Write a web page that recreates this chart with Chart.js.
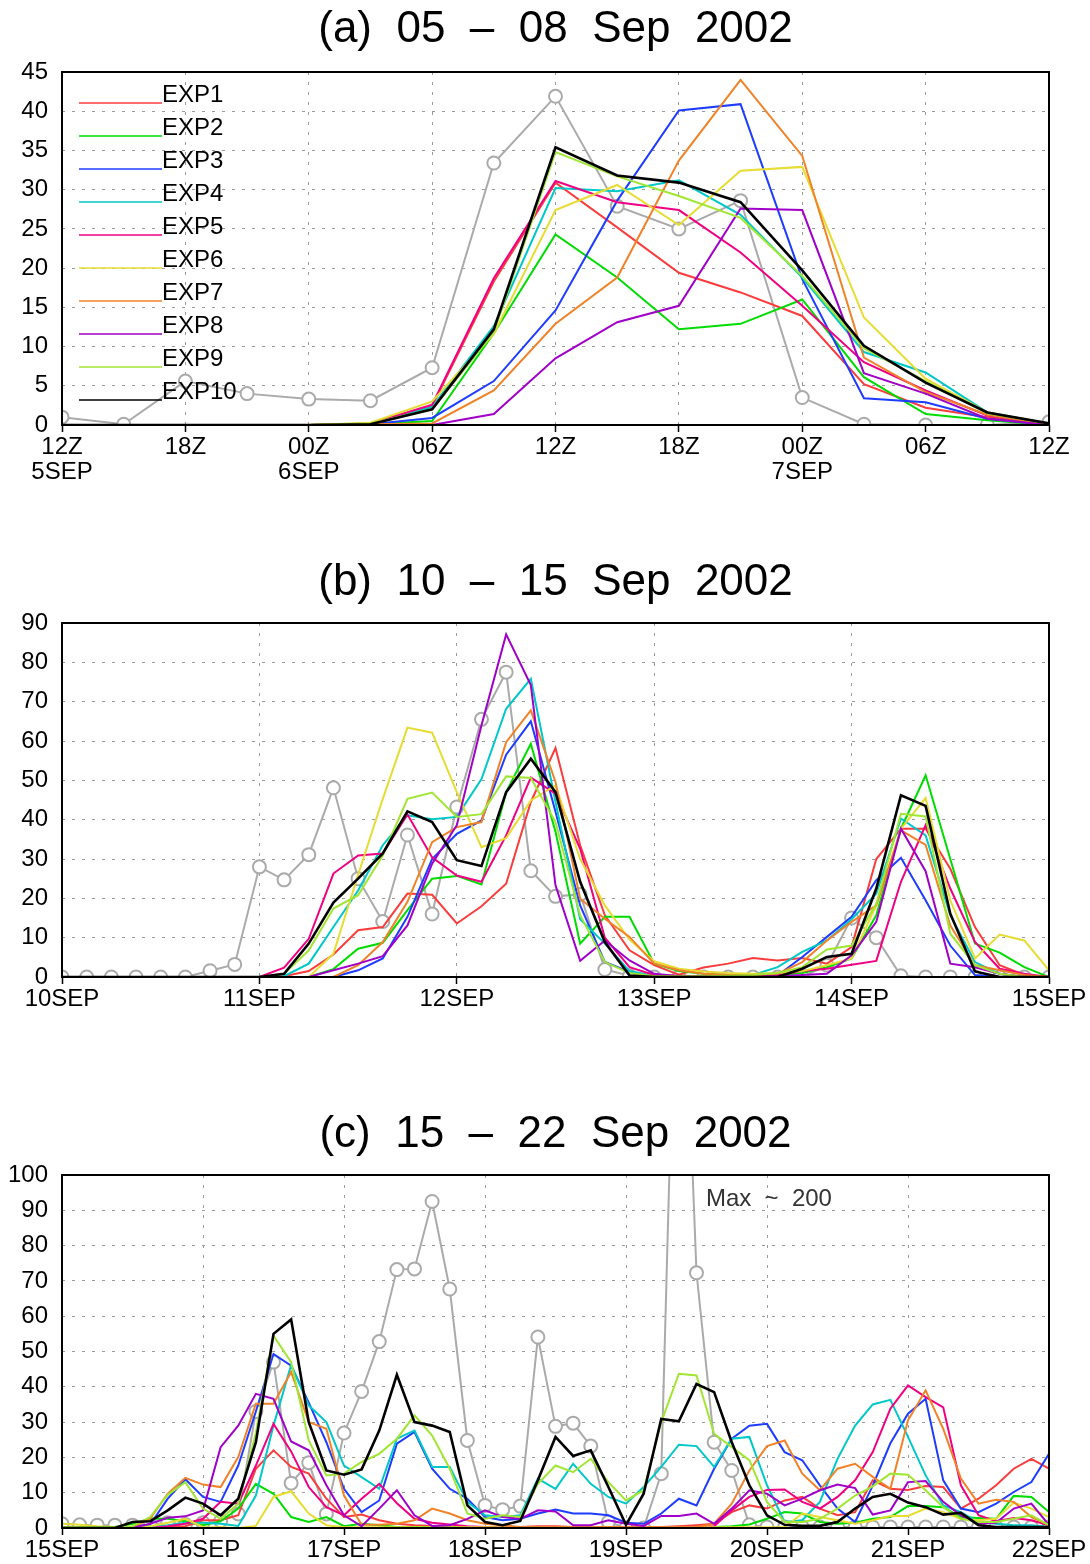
<!DOCTYPE html>
<html>
<head>
<meta charset="utf-8">
<title>Rain rate, EXP1-EXP10 vs observed, Sep 2002</title>
<script src="https://cdn.jsdelivr.net/npm/chart.js@4"></script>
<style>
  body { margin: 0; background: #fff; }
  canvas { position: absolute; left: 0; }
</style>
</head>
<body>
<canvas id="chart-a" width="1090" height="552" style="top:0px"></canvas>
<canvas id="chart-b" width="1090" height="552" style="top:552px"></canvas>
<canvas id="chart-c" width="1090" height="460" style="top:1104px"></canvas>
<script>
// ---- panel (a): 3-hourly, 12Z 5SEP .. 12Z 7SEP
const ticksA = [['12Z', '5SEP'], '18Z', ['00Z', '6SEP'], '06Z', '12Z', '18Z', ['00Z', '7SEP'], '06Z', '12Z'];
const obsA   = [1.0, 0.1, 5.6, 4.0, 3.3, 3.1, 7.3, 33.4, 41.9, 27.9, 25.0, 28.6, 3.5, 0.1, 0.0, 0.0, 0.4];
const exp1A  = [0, 0, 0, 0, 0, 0.2, 2.4, 18.3, 30.9, 25.2, 19.4, 16.9, 13.9, 5.2, 2.2, 1.0, 0.1];
const exp2A  = [0, 0, 0, 0, 0, 0.1, 0.5, 11.7, 24.3, 18.8, 12.2, 12.9, 16.0, 6.1, 1.4, 0.6, 0];
const exp3A  = [0, 0, 0, 0, 0, 0.1, 0.9, 5.6, 14.6, 28.6, 40.1, 40.9, 18.6, 3.4, 2.9, 0.8, 0];
const exp4A  = [0, 0, 0, 0, 0, 0.2, 2.3, 12.6, 30.2, 29.8, 31.2, 26.8, 18.8, 9.3, 6.7, 1.6, 0.2];
const exp5A  = [0, 0, 0, 0, 0, 0.2, 2.6, 18.7, 31.1, 28.4, 27.4, 22.0, 15.2, 8.0, 4.4, 1.2, 0.1];
const exp6A  = [0, 0, 0, 0, 0, 0.3, 3.0, 11.6, 27.4, 30.6, 25.5, 32.4, 32.9, 13.7, 5.9, 1.6, 0.2];
const exp7A  = [0, 0, 0, 0, 0, 0.1, 0.2, 4.4, 12.9, 18.8, 33.7, 44.0, 34.3, 8.6, 4.2, 1.3, 0.1];
const exp8A  = [0, 0, 0, 0, 0, 0, 0, 1.4, 8.5, 13.1, 15.2, 27.6, 27.4, 6.6, 4.0, 0.8, 0];
const exp9A  = [0, 0, 0, 0, 0, 0.2, 2.0, 11.8, 34.8, 31.7, 29.2, 26.4, 19.0, 9.8, 5.6, 1.5, 0.2];
const exp10A = [0, 0, 0, 0, 0, 0.1, 2.0, 12.2, 35.4, 31.8, 30.9, 28.4, 19.7, 10.1, 5.4, 1.6, 0.2];

// ---- panel (b): 3-hourly, 10SEP .. 15SEP
const ticksB = ['10SEP', '11SEP', '12SEP', '13SEP', '14SEP', '15SEP'];
const obsB = [0, 0, 0, 0, 0, 0, 1.6, 3.2,
  28.0, 24.7, 31.1, 48.1, 25.0, 14.1, 36.1, 16.0,
  43.2, 65.5, 77.5, 27.0, 20.5, 21.0, 1.9, 0.3,
  0, 0, 0, 0, 0, 0, 0, 3.0,
  15.0, 10.0, 0.3, 0, 0, 0, 0, 0, 0];
const exp1B = [0, 0, 0, 0, 0, 0, 0, 0,
  0, 0.2, 1.5, 5.7, 11.9, 12.7, 21.2, 20.9,
  13.6, 18.0, 23.7, 44.5, 58.2, 33.5, 15.7, 6.8,
  3.0, 0.6, 2.4, 3.4, 4.8, 4.2, 4.8, 3.4,
  7.6, 30.0, 37.7, 37.7, 27.5, 12.7, 3.0, 0.5, 0];
const exp2B = [0, 0, 0, 0, 0, 0, 0, 0,
  0, 0, 0, 2.0, 7.2, 8.7, 17.0, 25.0,
  25.7, 23.5, 47.0, 59.3, 36.9, 8.5, 15.3, 15.3,
  3.4, 1.5, 0.8, 0.5, 0.5, 0.5, 1.0, 2.5,
  4.7, 15.7, 37.7, 51.3, 30.0, 8.5, 6.2, 2.5, 0];
const exp3B = [0, 0, 0, 0, 0, 0, 0, 0,
  0, 0, 0, 0, 1.7, 4.7, 15.3, 30.0,
  36.4, 39.8, 56.5, 65.0, 42.0, 18.2, 3.8, 1.3,
  0, 0, 0, 0, 0, 0.4, 5.1, 10.2,
  15.3, 24.6, 30.3, 19.5, 8.0, 0.5, 0, 0, 0];
const exp4B = [0, 0, 0, 0, 0, 0, 0, 0,
  0, 0.2, 3.4, 12.7, 22.0, 33.5, 41.1, 40.1,
  40.7, 50.3, 68.2, 75.8, 44.5, 14.7, 8.5, 1.5,
  0.3, 0.2, 0.2, 0.3, 0.5, 2.5, 6.4, 9.3,
  14.7, 21.2, 40.3, 36.0, 15.7, 3.8, 0.8, 0, 0];
const exp5B = [0, 0, 0, 0, 0, 0, 0, 0,
  0, 2.4, 9.7, 26.3, 30.9, 31.4, 41.3, 30.4,
  25.8, 24.2, 36.0, 50.7, 46.6, 32.6, 10.0, 2.5,
  0.5, 0.3, 0.2, 0.2, 0.3, 0.5, 1.5, 2.1,
  3.1, 4.1, 24.2, 38.6, 22.5, 8.9, 2.1, 0.8, 0];
const exp6B = [0, 0, 0, 0, 0, 0, 0, 0,
  0, 0, 0, 5.9, 26.0, 45.3, 63.4, 62.1,
  47.0, 33.0, 35.3, 44.9, 48.7, 30.0, 18.2, 9.5,
  4.0, 2.1, 1.4, 1.0, 0.8, 1.0, 1.5, 3.0,
  4.7, 18.2, 37.7, 45.5, 19.5, 4.7, 10.8, 9.3, 1.7];
const exp7B = [0, 0, 0, 0, 0, 0, 0, 0,
  0, 0, 0, 0, 3.0, 8.9, 19.1, 34.3,
  38.1, 39.4, 59.7, 67.8, 49.6, 19.9, 14.8, 10.2,
  3.4, 1.7, 0.8, 0.5, 0.5, 0.8, 3.8, 9.3,
  14.0, 18.2, 37.3, 33.6, 13.1, 3.0, 1.7, 0.5, 0];
const exp8B = [0, 0, 0, 0, 0, 0, 0, 0,
  0, 0, 0, 1.7, 3.4, 5.3, 13.1, 28.8,
  38.6, 64.0, 87.1, 74.2, 23.3, 4.1, 9.3, 4.2,
  0.8, 0.2, 0, 0, 0, 0.2, 0.5, 0.8,
  5.5, 14.0, 37.7, 26.9, 3.4, 2.5, 0.8, 0, 0];
const exp9B = [0, 0, 0, 0, 0, 0, 0, 0,
  0, 0.8, 6.8, 17.4, 20.8, 30.9, 45.3, 46.9,
  40.7, 41.4, 51.0, 50.6, 39.4, 15.7, 3.8, 1.0,
  0.2, 0.2, 0.2, 0.3, 0.5, 1.0, 2.5, 7.0,
  8.0, 18.6, 41.5, 40.8, 11.0, 3.0, 0.8, 0, 0];
const exp10B = [0, 0, 0, 0, 0, 0, 0, 0,
  0, 0.8, 8.5, 18.9, 25.0, 31.4, 42.1, 39.4,
  29.7, 28.2, 47.0, 55.5, 47.0, 24.2, 8.9, 0.4,
  0, 0, 0, 0, 0, 0, 2.1, 5.1,
  5.9, 22.5, 46.2, 43.5, 16.1, 1.4, 0, 0, 0];

// ---- panel (c): 3-hourly, 15SEP .. 22SEP (obs peak on 19SEP ~200, off scale)
const ticksC = ['15SEP', '16SEP', '17SEP', '18SEP', '19SEP', '20SEP', '21SEP', '22SEP'];
const obsC = [1.2, 0.9, 0.8, 0.8, 0.8, 1.0, 1.5, 1.0,
  1.5, 2.0, 4.0, 33.0, 47.0, 12.7, 18.5, 4.0,
  26.9, 38.7, 52.8, 73.2, 73.4, 92.5, 67.7, 24.8,
  6.4, 5.2, 6.2, 54.1, 28.8, 29.7, 23.2, 1.7,
  0, 0, 15.4, 200, 72.3, 24.3, 16.3, 0.9,
  0.3, 0.3, 0.3, 0.3, 0.3, 0.3, 0.3, 0.3,
  0.3, 0.3, 0.3, 0.3, 0.3, 0.3, 0.3, 0.3, 0.3];
const exp1C = [0, 0, 0, 0, 0, 0, 0.3, 0.5,
  2.2, 2.2, 3.6, 16.8, 22.0, 17.3, 15.4, 8.3,
  3.1, 3.8, 2.2, 1.2, 0.8, 0.6, 0.3, 0.3,
  0.2, 0.2, 0.3, 0.5, 0.5, 0.3, 0.2, 0.2,
  0.2, 0.3, 0.3, 0.5, 0.8, 1.2, 4.5, 6.4,
  5.5, 7.8, 8.8, 5.5, 3.6, 4.5, 13.5, 11.1,
  10.8, 11.9, 11.6, 5.5, 8.3, 12.1, 16.8, 19.6, 16.8];
const exp2C = [0.3, 0.3, 0.3, 0.3, 1.2, 2.6, 2.6, 1.9,
  0.8, 1.9, 5.5, 12.5, 9.7, 3.1, 1.7, 3.1,
  0.5, 1.2, 0.8, 0.3, 0.3, 0.3, 0.2, 0.2,
  0.2, 0.2, 0.2, 0.2, 0.2, 0.2, 0.2, 0.2,
  0.2, 0.2, 0.2, 0.2, 0.2, 0.3, 0.5, 1.0,
  2.6, 4.5, 4.1, 1.7, 1.2, 1.5, 2.6, 3.1,
  6.2, 6.2, 5.9, 3.1, 2.8, 2.6, 9.1, 8.8, 4.5];
const exp3C = [0.2, 0.2, 0.2, 0.2, 0.2, 1.0, 8.3, 13.8,
  8.8, 7.4, 17.7, 33.0, 49.3, 46.0, 35.5, 24.3,
  11.1, 4.5, 7.8, 23.9, 27.2, 16.8, 11.1, 8.3,
  3.1, 2.2, 2.6, 4.1, 5.2, 4.1, 4.1, 3.6,
  1.5, 1.2, 4.1, 8.3, 6.4, 16.8, 25.3, 29.0,
  29.5, 21.5, 19.2, 12.1, 5.5, 1.7, 12.0, 24.0,
  32.4, 36.6, 13.5, 5.5, 4.5, 6.9, 10.2, 13.0, 21.0];
const exp4C = [0.3, 0.3, 0.3, 0.3, 0.3, 0.5, 0.8, 1.5,
  1.5, 1.2, 0.6, 9.2, 29.0, 46.2, 34.7, 30.0,
  17.7, 14.4, 11.1, 25.3, 27.6, 17.3, 17.3, 7.4,
  3.6, 3.1, 3.6, 14.0, 11.1, 18.2, 12.5, 8.8,
  6.9, 11.6, 17.3, 23.6, 23.2, 17.3, 25.3, 25.8,
  12.1, 1.7, 2.2, 7.4, 19.6, 29.0, 35.0, 36.3,
  25.8, 14.9, 6.4, 4.5, 1.7, 1.2, 0.8, 0.8, 0.3];
const exp5C = [0, 0, 0, 0, 0, 0, 0.5, 1.2,
  2.6, 7.4, 6.9, 17.7, 29.5, 21.7, 11.6, 5.9,
  3.6, 8.3, 12.5, 7.0, 2.6, 1.5, 1.0, 0.5,
  0.3, 0.3, 0.3, 0.3, 0.3, 0.3, 0.3, 0.3,
  0.3, 0.3, 0.3, 0.3, 0.3, 0.5, 5.0, 8.8,
  10.8, 10.9, 7.4, 5.5, 8.8, 13.5, 21.5, 33.8,
  40.4, 37.1, 34.2, 12.1, 3.6, 1.9, 2.8, 2.2, 0.8];
const exp6C = [1.2, 0.9, 0.5, 0.3, 0.3, 0.5, 1.5, 2.6,
  0.3, 0.2, 0, 0.6, 8.8, 10.4, 4.1, 0.8,
  0.2, 0.2, 0.2, 0.2, 0.2, 0.2, 0.2, 0.2,
  0.2, 0.2, 0.2, 0.2, 0.2, 0.2, 0.2, 0.2,
  0.2, 0.2, 0.2, 0.2, 0.2, 0.2, 0.2, 0.2,
  0.2, 0.3, 4.1, 3.1, 2.2, 1.2, 2.2, 3.4,
  3.4, 5.5, 4.5, 2.6, 2.2, 2.6, 7.2, 5.5, 3.1];
const exp7C = [0.3, 0.3, 0.3, 0.3, 0.3, 2.6, 9.7, 14.2,
  12.3, 11.6, 20.1, 35.2, 35.2, 44.2, 30.0, 28.1,
  9.2, 0.9, 0.9, 1.2, 2.2, 5.5, 4.1, 2.2,
  1.2, 0.8, 0.3, 0.3, 0.3, 0.3, 0.3, 0.3,
  0.3, 0.3, 0.3, 0.3, 0.3, 1.2, 6.9, 16.3,
  23.2, 24.8, 15.4, 10.7, 16.8, 18.2, 14.5, 11.1,
  30.5, 39.0, 28.1, 14.0, 6.9, 8.0, 7.4, 3.1, 0.8];
const exp8C = [0, 0, 0, 0, 0, 1.2, 2.9, 3.3,
  5.0, 22.9, 29.0, 38.0, 36.6, 24.5, 22.0, 12.1,
  3.6, 0.5, 5.5, 10.7, 3.6, 0.6, 0.8, 2.6,
  5.0, 3.1, 2.6, 5.0, 4.7, 0.8, 0.8, 2.2,
  1.2, 0.6, 3.4, 3.4, 4.1, 1.2, 5.5, 10.7,
  9.7, 6.4, 8.3, 10.7, 12.3, 11.3, 3.8, 5.0,
  13.0, 13.3, 7.4, 3.6, 1.2, 1.5, 5.5, 6.9, 0.8];
const exp9C = [0.3, 0.3, 0.3, 0.3, 0.5, 3.1, 9.4, 13.0,
  5.5, 2.6, 6.9, 27.0, 54.5, 47.0, 24.8, 14.9,
  15.4, 18.7, 21.0, 25.3, 31.9, 26.2, 16.8, 4.1,
  2.6, 3.6, 3.1, 12.5, 17.7, 15.8, 19.6, 13.0,
  7.8, 10.7, 30.0, 43.7, 43.2, 26.7, 22.9, 19.2,
  7.4, 1.7, 1.7, 2.6, 5.5, 9.2, 11.8, 15.4,
  15.1, 10.7, 5.9, 2.6, 1.7, 1.7, 2.6, 3.6, 0.8];
const exp10C = [0, 0, 0, 0, 1.7, 1.9, 5.0, 8.6,
  6.9, 3.6, 8.3, 24.3, 55.0, 59.1, 30.0, 16.3,
  15.1, 16.6, 27.6, 43.4, 30.0, 29.0, 27.2, 6.4,
  1.7, 0.8, 2.0, 13.5, 25.8, 20.4, 22.0, 11.6,
  0.9, 9.7, 30.9, 30.2, 40.8, 38.5, 24.3, 12.1,
  3.6, 0.9, 0.6, 0.6, 1.7, 5.5, 8.8, 9.7,
  7.2, 5.9, 3.8, 4.3, 0.8, 0.3, 0.3, 0.3, 0.3];

const expNames = ['EXP1', 'EXP2', 'EXP3', 'EXP4', 'EXP5', 'EXP6', 'EXP7', 'EXP8', 'EXP9', 'EXP10'];
const expColors = ['rgb(250,60,60)', 'rgb(0,220,0)', 'rgb(30,60,255)', 'rgb(0,200,200)', 'rgb(240,0,130)',
  'rgb(230,220,50)', 'rgb(240,130,40)', 'rgb(160,0,200)', 'rgb(160,230,50)', 'rgb(0,0,0)'];
const obsColor = 'rgb(170,170,170)';
const FONT = "'Liberation Sans', Arial, sans-serif";

Chart.defaults.font.family = FONT;
Chart.defaults.color = '#000';

function buildDatasets(obs, exps) {
  const pts = arr => arr.map((v, i) => ({ x: i * 3, y: v }));
  const sets = exps.map((arr, n) => ({
    label: expNames[n],
    data: pts(arr),
    borderColor: expColors[n],
    borderWidth: n === 9 ? 2.6 : 2,
    pointRadius: 0,
    tension: 0,
    order: 10 - n
  }));
  sets.push({
    label: 'OBS',
    data: pts(obs),
    borderColor: obsColor,
    borderWidth: 2,
    pointRadius: 6.5,
    pointBorderWidth: 2,
    pointBorderColor: obsColor,
    pointBackgroundColor: '#fff',
    tension: 0,
    order: 11
  });
  return sets;
}

// frame, title, legend and note drawn on top of the datasets
const panelDecor = {
  id: 'panelDecor',
  afterDatasetsDraw(chart, args, opts) {
    const { ctx, chartArea: a } = chart;
    ctx.save();
    ctx.strokeStyle = '#000';
    ctx.lineWidth = 2;
    ctx.strokeRect(a.left, a.top, a.right - a.left, a.bottom - a.top);

    ctx.fillStyle = '#000';
    ctx.font = '44px ' + FONT;
    ctx.textAlign = 'center';
    ctx.textBaseline = 'middle';
    ctx.fillText(opts.title, (a.left + a.right) / 2, opts.titleY);

    if (opts.legend) {
      ctx.font = '24px ' + FONT;
      ctx.textAlign = 'left';
      ctx.textBaseline = 'alphabetic';
      expNames.forEach((name, n) => {
        const y = Math.round(a.top + 31 + n * 33);
        ctx.strokeStyle = expColors[n];
        ctx.lineWidth = 1.5;
        ctx.beginPath();
        ctx.moveTo(a.left + 17, y);
        ctx.lineTo(a.left + 100, y);
        ctx.stroke();
        ctx.fillStyle = '#000';
        ctx.fillText(name, a.left + 100, y - 1);
      });
    }
    if (opts.note) {
      ctx.font = '24px ' + FONT;
      ctx.textAlign = 'left';
      ctx.textBaseline = 'middle';
      ctx.fillStyle = '#333';
      ctx.fillText(opts.note.text, chart.scales.x.getPixelForValue(opts.note.x), a.top + 24);
    }
    ctx.restore();
  }
};

function makeChart(id, cfg) {
  const xLabels = cfg.ticks;
  new Chart(document.getElementById(id), {
    type: 'line',
    data: { datasets: buildDatasets(cfg.obs, cfg.exps) },
    options: {
      responsive: false,
      animation: false,
      events: [],
      layout: { padding: { top: cfg.top, right: 41, left: 0, bottom: 0 } },
      scales: {
        x: {
          type: 'linear',
          min: 0,
          max: cfg.span,
          afterFit: s => { s.height = cfg.axisH; },
          ticks: {
            stepSize: cfg.step,
            autoSkip: false,
            maxRotation: 0,
            padding: 3,
            font: { size: 24, lineHeight: 1.05 },
            callback: v => xLabels[Math.round(v / cfg.step)]
          },
          grid: { color: '#9a9a9a', lineWidth: 1, tickLength: 7, tickColor: '#000', tickWidth: 1.5, tickBorderDash: [] },
          border: { display: false, dash: [3, 7] }
        },
        y: {
          min: 0,
          max: cfg.ymax,
          afterFit: s => { s.width = 62; },
          ticks: { stepSize: cfg.ystep, padding: 14, font: { size: 24 } },
          grid: { color: '#9a9a9a', lineWidth: 1, drawTicks: false },
          border: { display: false, dash: [3, 7] }
        }
      },
      plugins: {
        legend: { display: false },
        tooltip: { enabled: false },
        panelDecor: { title: cfg.title, titleY: cfg.titleY, legend: cfg.legend, note: cfg.note }
      }
    },
    plugins: [panelDecor]
  });
}

makeChart('chart-a', {
  title: '(a)  05  \u2013  08  Sep  2002', titleY: 30, top: 72, axisH: 127,
  span: 48, step: 6, ticks: ticksA, ymax: 45, ystep: 5, legend: true,
  obs: obsA, exps: [exp1A, exp2A, exp3A, exp4A, exp5A, exp6A, exp7A, exp8A, exp9A, exp10A]
});
makeChart('chart-b', {
  title: '(b)  10  \u2013  15  Sep  2002', titleY: 31, top: 71, axisH: 127,
  span: 120, step: 24, ticks: ticksB, ymax: 90, ystep: 10,
  obs: obsB, exps: [exp1B, exp2B, exp3B, exp4B, exp5B, exp6B, exp7B, exp8B, exp9B, exp10B]
});
makeChart('chart-c', {
  title: '(c)  15  \u2013  22  Sep  2002', titleY: 31, top: 71, axisH: 36,
  span: 168, step: 24, ticks: ticksC, ymax: 100, ystep: 10,
  note: { text: 'Max  ~  200', x: 109.6 },
  obs: obsC, exps: [exp1C, exp2C, exp3C, exp4C, exp5C, exp6C, exp7C, exp8C, exp9C, exp10C]
});
</script>
</body>
</html>
